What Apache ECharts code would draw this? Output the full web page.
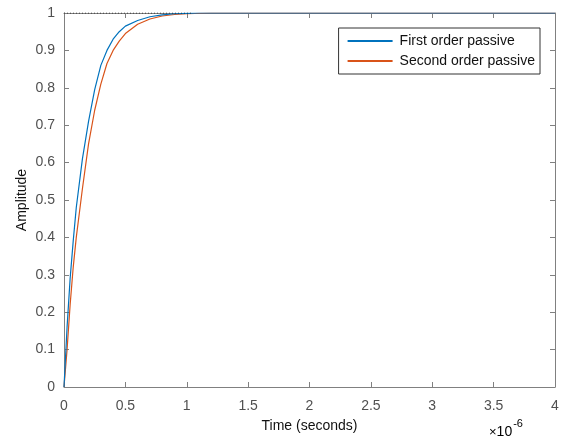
<!DOCTYPE html>
<html>
<head>
<meta charset="utf-8">
<script src="https://cdn.jsdelivr.net/npm/echarts@6/dist/echarts.min.js"></script>
<style>
  html, body { margin: 0; padding: 0; background: #fff; }
  #chart { width: 566px; height: 438px; }
</style>
</head>
<body>
<div id="chart"></div>
<script>
// time in microseconds (axis carries the x10^-6 multiplier)
var timeFirst = [0, 0.025, 0.05, 0.075, 0.1, 0.15, 0.2, 0.25, 0.3, 0.35, 0.4, 0.45, 0.5, 0.6, 0.7, 0.8, 0.9, 1.0, 1.1, 4.0];
var ampFirst  = [0, 0.16, 0.29, 0.39, 0.48, 0.61, 0.71, 0.795, 0.86, 0.90, 0.93, 0.95, 0.965, 0.98, 0.99, 0.995, 0.998, 0.999, 1.0, 1.0];

var timeSecond = [0, 0.025, 0.05, 0.075, 0.1, 0.15, 0.2, 0.25, 0.3, 0.35, 0.4, 0.45, 0.5, 0.6, 0.7, 0.8, 0.9, 1.0, 1.2, 4.0];
var ampSecond  = [0, 0.10, 0.22, 0.32, 0.40, 0.53, 0.65, 0.74, 0.81, 0.865, 0.90, 0.925, 0.945, 0.97, 0.984, 0.992, 0.996, 0.998, 1.0, 1.0];

// steady-state marker (dotted)
var steadyTime = [0, 1.05];
var steadyAmp  = [1, 1];

var xTicks = ['0', '0.5', '1', '1.5', '2', '2.5', '3', '3.5', '4'];
var yTicks = ['0', '0.1', '0.2', '0.3', '0.4', '0.5', '0.6', '0.7', '0.8', '0.9', '1'];

var seriesNames = ['First order passive', 'Second order passive'];

function pairs(xs, ys) {
  var out = [];
  for (var i = 0; i < xs.length; i++) out.push([xs[i], ys[i]]);
  return out;
}

var AXIS_COLOR = '#808080';
var LABEL_COLOR = '#505050';
var FONT = 'Liberation Sans, Arial, sans-serif';

function tick() {
  return { show: true, inside: true, length: 5, lineStyle: { color: AXIS_COLOR, width: 1 } };
}
function line() {
  return { show: true, onZero: false, lineStyle: { color: AXIS_COLOR, width: 1 } };
}

var myChart = echarts.init(document.getElementById('chart'));

var option = {
  animation: false,
  backgroundColor: '#fff',
  grid: { left: 64, right: 11, top: 13, bottom: 51, containLabel: false, outerBoundsMode: 'none' },
  legend: {
    data: seriesNames,
    orient: 'vertical',
    right: 26, top: 28,
    padding: [6, 5, 6, 9],
    itemGap: 6,
    itemWidth: 45, itemHeight: 2,
    borderColor: '#333', borderWidth: 1,
    backgroundColor: '#fff',
    icon: 'rect',
    textStyle: { fontFamily: FONT, fontSize: 14, color: '#111', padding: [0, 0, 0, 2] }
  },
  xAxis: [
    {
      type: 'value', min: 0, max: 4, interval: 0.5, position: 'bottom',
      name: 'Time (seconds)', nameLocation: 'middle', nameGap: 32,
      nameTextStyle: { fontFamily: FONT, fontSize: 14, color: '#111' },
      axisLine: line(), axisTick: tick(), splitLine: { show: false },
      axisLabel: {
        fontFamily: FONT, fontSize: 14, color: LABEL_COLOR, margin: 12,
        formatter: function (v) { return xTicks[Math.round(v / 0.5)]; }
      }
    },
    {
      type: 'value', min: 0, max: 4, interval: 0.5, position: 'top',
      axisLine: line(), axisTick: tick(), splitLine: { show: false },
      axisLabel: { show: false }
    }
  ],
  yAxis: [
    {
      type: 'value', min: 0, max: 1, interval: 0.1, position: 'left',
      name: 'Amplitude', nameLocation: 'middle', nameGap: 35, nameMoveOverlap: false,
      nameTextStyle: { fontFamily: FONT, fontSize: 14, color: '#111' },
      axisLine: line(), axisTick: tick(), splitLine: { show: false },
      axisLabel: {
        fontFamily: FONT, fontSize: 14, color: LABEL_COLOR, margin: 9,
        formatter: function (v) { return yTicks[Math.round(v * 10)]; }
      }
    },
    {
      type: 'value', min: 0, max: 1, interval: 0.1, position: 'right',
      axisLine: line(), axisTick: tick(), splitLine: { show: false },
      axisLabel: { show: false }
    }
  ],
  graphic: [{
    type: 'text', left: 489, top: 418,
    style: {
      text: '{a|×}{b|10}{c|-6}',
      rich: {
        a: { fontFamily: FONT, fontSize: 13, color: LABEL_COLOR, verticalAlign: 'bottom' },
        b: { fontFamily: FONT, fontSize: 14, color: LABEL_COLOR, verticalAlign: 'bottom' },
        c: { fontFamily: FONT, fontSize: 11, color: LABEL_COLOR, verticalAlign: 'top', padding: [0, 0, 10, 1] }
      }
    }
  }],
  series: [
    {
      name: seriesNames[0], type: 'line', showSymbol: false,
      data: pairs(timeFirst, ampFirst),
      itemStyle: { color: '#0072BD' },
      lineStyle: { color: '#0072BD', width: 1.2 },
      z: 3
    },
    {
      name: seriesNames[1], type: 'line', showSymbol: false,
      data: pairs(timeSecond, ampSecond),
      itemStyle: { color: '#D95319' },
      lineStyle: { color: '#D95319', width: 1.2 },
      z: 2
    },
    {
      name: 'steady', type: 'line', showSymbol: false,
      data: pairs(steadyTime, steadyAmp),
      lineStyle: { color: '#222', width: 1, type: [1, 2] },
      z: 4, silent: true
    }
  ]
};

myChart.setOption(option, true);
</script>
</body>
</html>
